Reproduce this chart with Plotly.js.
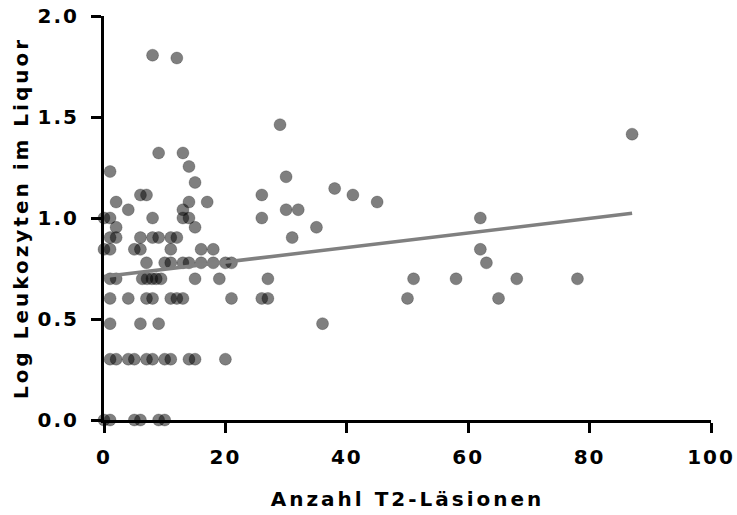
<!DOCTYPE html>
<html>
<head>
<meta charset="utf-8">
<script src="https://cdn.plot.ly/plotly-3.0.1.min.js"></script>
<style>
  html, body { margin: 0; padding: 0; background: #fff; }
  #chart { width: 737px; height: 515px; }
  /* spaced-out lettering on ticks and axis titles */
  .xaxislayer-above text, .yaxislayer-above text { letter-spacing: 2px !important; }
  .xtitle, .ytitle { letter-spacing: 3px !important; }
</style>
</head>
<body>
<div id="chart"></div>
<script>
// Number of T2 lesions per patient
const lesions = [
  8, 12,
  29, 87,
  9, 13,
  14,
  1,
  30,
  15,
  38,
  6, 7, 26, 41,
  2, 14, 17, 45,
  4, 13, 30, 32,
  0, 1, 8, 13, 14, 26, 62,
  2, 15, 35,
  1, 2, 6, 8, 9, 11, 12, 31,
  0, 1, 5, 6, 11, 16, 18, 62,
  7, 10, 11, 13, 14, 16, 18, 20, 21, 63,
  1, 2, 6.3, 7.1, 7.9, 8.6, 9.4, 15, 19, 27, 51, 58, 68, 78,
  1, 4, 7, 8, 11, 12, 13, 21, 26, 27, 50, 65,
  1, 6, 9, 36,
  1, 2, 4, 5, 7, 8, 10, 11, 14, 15, 20,
  0, 1, 5, 6, 9, 10
];

// log10 of CSF leukocyte count, same order as above
const logLeuko = [
  1.806, 1.792,
  1.462, 1.415,
  1.322, 1.322,
  1.255,
  1.230,
  1.204,
  1.176,
  1.146,
  1.114, 1.114, 1.114, 1.114,
  1.079, 1.079, 1.079, 1.079,
  1.041, 1.041, 1.041, 1.041,
  1.0, 1.0, 1.0, 1.0, 1.0, 1.0, 1.0,
  0.954, 0.954, 0.954,
  0.903, 0.903, 0.903, 0.903, 0.903, 0.903, 0.903, 0.903,
  0.845, 0.845, 0.845, 0.845, 0.845, 0.845, 0.845, 0.845,
  0.778, 0.778, 0.778, 0.778, 0.778, 0.778, 0.778, 0.778, 0.778, 0.778,
  0.699, 0.699, 0.699, 0.699, 0.699, 0.699, 0.699, 0.699, 0.699, 0.699, 0.699, 0.699, 0.699, 0.699,
  0.602, 0.602, 0.602, 0.602, 0.602, 0.602, 0.602, 0.602, 0.602, 0.602, 0.602, 0.602,
  0.477, 0.477, 0.477, 0.477,
  0.301, 0.301, 0.301, 0.301, 0.301, 0.301, 0.301, 0.301, 0.301, 0.301, 0.301,
  0, 0, 0, 0, 0, 0
];

// Linear regression line endpoints
const fitX = [0, 87];
const fitY = [0.71, 1.023];

const xTicks = [0, 20, 40, 60, 80, 100];
const yTicks = [0, 0.5, 1.0, 1.5, 2.0];
const yTickText = ['0.0', '0.5', '1.0', '1.5', '2.0'];

const font = 'DejaVu Sans, Liberation Sans, sans-serif';
const boldFont = { family: font, size: 20, weight: 'bold', color: '#000' };

const traces = [
  {
    type: 'scatter',
    mode: 'markers',
    x: lesions,
    y: logLeuko,
    cliponaxis: false,
    marker: {
      size: 12,
      color: 'rgba(0,0,0,0.5)',
      line: { width: 1, color: 'rgba(0,0,0,0.22)' }
    },
    hoverinfo: 'skip'
  },
  {
    type: 'scatter',
    mode: 'lines',
    x: fitX,
    y: fitY,
    line: { color: '#808080', width: 3.5 },
    hoverinfo: 'skip'
  }
];

const layout = {
  width: 737,
  height: 515,
  margin: { l: 104, r: 26, t: 16, b: 95 },
  paper_bgcolor: '#fff',
  plot_bgcolor: '#fff',
  showlegend: false,
  font: { family: font, color: '#000' },
  xaxis: {
    range: [0, 100],
    tickvals: xTicks,
    ticktext: xTicks.map(String),
    showgrid: false,
    zeroline: false,
    showline: true,
    linecolor: '#000',
    linewidth: 3,
    ticks: 'outside',
    ticklen: 10,
    tickwidth: 3,
    tickcolor: '#000',
    ticklabelstandoff: 7,
    tickfont: boldFont,
    title: {
      text: 'Anzahl T2-Läsionen',
      font: boldFont,
      standoff: 24
    }
  },
  yaxis: {
    range: [0, 2],
    tickvals: yTicks,
    ticktext: yTickText,
    showgrid: false,
    zeroline: false,
    showline: true,
    linecolor: '#000',
    linewidth: 3,
    ticks: 'outside',
    ticklen: 10,
    tickwidth: 3,
    tickcolor: '#000',
    ticklabelstandoff: 8,
    tickfont: boldFont,
    title: {
      text: 'Log Leukozyten im Liquor',
      font: boldFont,
      standoff: 10
    }
  }
};

Plotly.newPlot('chart', traces, layout, { staticPlot: true, displayModeBar: false });
</script>
</body>
</html>
